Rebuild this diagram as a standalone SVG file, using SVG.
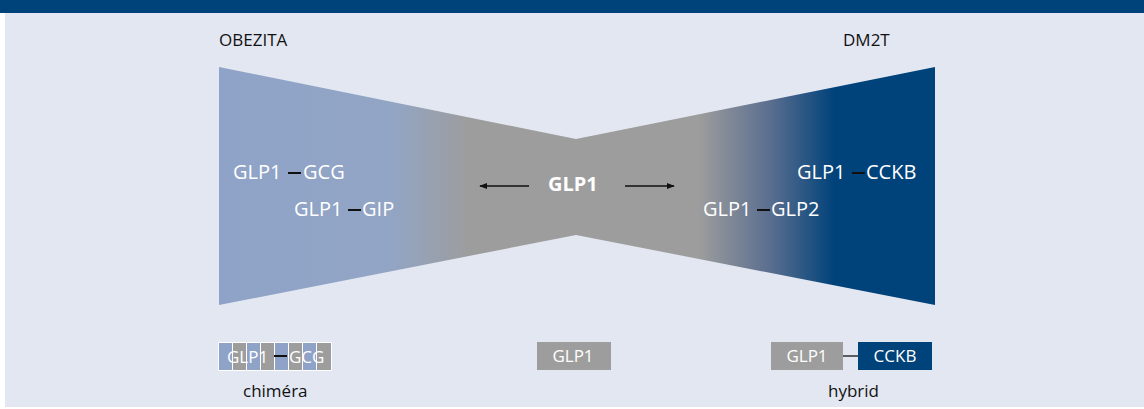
<svg xmlns="http://www.w3.org/2000/svg" width="1144" height="409" viewBox="0 0 1144 409">
<defs>
<linearGradient id="bow" x1="219" y1="0" x2="935" y2="0" gradientUnits="userSpaceOnUse">
<stop offset="0" stop-color="#8fa3c8"/>
<stop offset="0.24" stop-color="#92a5c5"/>
<stop offset="0.35" stop-color="#9d9d9d"/>
<stop offset="0.67" stop-color="#9d9d9d"/>
<stop offset="0.77" stop-color="#5a6e8f"/>
<stop offset="0.86" stop-color="#00427a"/>
<stop offset="1" stop-color="#00427a"/>
</linearGradient>
<marker id="ah" viewBox="0 0 10 10" refX="9" refY="5" markerWidth="8" markerHeight="8" markerUnits="userSpaceOnUse" orient="auto">
<path d="M0,1 L10,5 L0,9 Z" fill="#111"/>
</marker>
<style>
.t{font-family:"Open Sans","Noto Sans",sans-serif;fill:#fff;font-size:20px}
.lab{font-family:"Open Sans","Noto Sans",sans-serif;fill:#111;font-size:17px}
.bt{font-family:"Open Sans","Noto Sans",sans-serif;fill:#fff;font-size:17px}
.b{fill:#8fa3c8}
.g{fill:#9d9d9d}
.dash{stroke:#111;stroke-width:2}
</style>
</defs>
<rect x="0" y="0" width="1144" height="409" fill="#ffffff"/>
<rect x="5" y="0" width="1139" height="407" fill="#e3e7f1"/>
<rect x="0" y="0" width="1144" height="13" fill="#00427a"/>

<g id="bowtie">
<path d="M219,67 L576,139 L935,67 L935,305 L576,235 L219,305 Z" fill="url(#bow)"/>
</g>

<g id="obezita"><text class="lab" x="219" y="46">OBEZITA</text></g>
<g id="dm2t"><text class="lab" x="843" y="46">DM2T</text></g>

<g id="glp1-gcg">
<text class="t" x="233" y="179">GLP1</text>
<line class="dash" x1="288" y1="173" x2="301" y2="173"/>
<text class="t" x="303" y="179">GCG</text>
</g>
<g id="glp1-gip">
<text class="t" x="294" y="216">GLP1</text>
<line class="dash" x1="348" y1="210" x2="361" y2="210"/>
<text class="t" x="362" y="216">GIP</text>
</g>
<g id="glp1-cckb">
<text class="t" x="797" y="179">GLP1</text>
<line class="dash" x1="852" y1="173" x2="865" y2="173"/>
<text class="t" x="866" y="179">CCKB</text>
</g>
<g id="glp1-glp2">
<text class="t" x="703" y="216">GLP1</text>
<line class="dash" x1="757" y1="210" x2="770" y2="210"/>
<text class="t" x="771" y="216">GLP2</text>
</g>
<g id="glp1-center"><text class="t" x="548" y="191" font-weight="bold">GLP1</text></g>

<g id="connectors" stroke="#111" stroke-width="1.3" fill="none">
<line x1="529" y1="186" x2="480" y2="186" marker-end="url(#ah)"/>
<line x1="625" y1="186" x2="674" y2="186" marker-end="url(#ah)"/>
<line x1="843" y1="356" x2="858" y2="356"/>
</g>

<g id="chimera">
<rect x="218" y="342" width="114" height="29" fill="#fff"/>
<rect class="b" x="219" y="343" width="13" height="27"/>
<rect class="g" x="233" y="343" width="13" height="27"/>
<rect class="b" x="247" y="343" width="13" height="27"/>
<rect class="g" x="261" y="343" width="13" height="27"/>
<rect class="b" x="275" y="343" width="13" height="27"/>
<rect class="g" x="289" y="343" width="13" height="27"/>
<rect class="b" x="303" y="343" width="13" height="27"/>
<rect class="g" x="317" y="343" width="14" height="27"/>
<text class="bt" x="227" y="363">GLP1</text>
<line class="dash" x1="274" y1="356" x2="287" y2="356"/>
<text class="bt" x="289" y="363">GCG</text>
<text class="lab" x="243" y="397">chiméra</text>
</g>

<g id="glp1-box">
<rect class="g" x="537" y="342" width="74" height="28"/>
<text class="bt" x="573" y="362" text-anchor="middle">GLP1</text>
</g>

<g id="hybrid">
<rect class="g" x="771" y="342" width="72" height="28"/>
<text class="bt" x="807" y="362" text-anchor="middle">GLP1</text>
<rect x="858" y="342" width="74" height="28" fill="#00427a"/>
<text class="bt" x="895" y="362" text-anchor="middle">CCKB</text>
<text class="lab" x="828" y="397">hybrid</text>
</g>
</svg>
